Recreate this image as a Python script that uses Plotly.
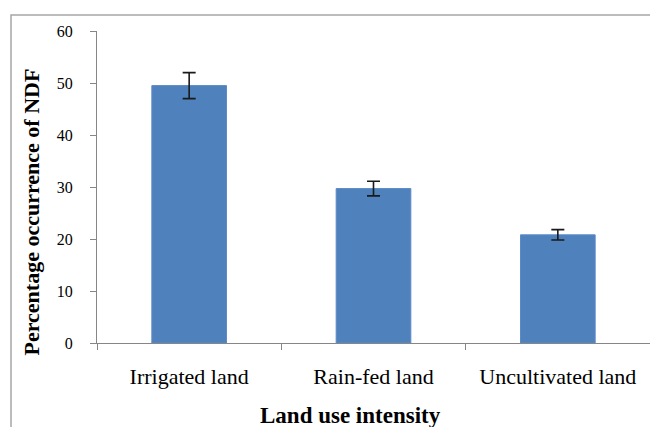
import plotly.graph_objects as go

categories = ["Irrigated land", "Rain-fed land", "Uncultivated land"]
values = [49.5, 29.7, 20.8]
errors = [2.5, 1.4, 1.0]
y_ticks = [0, 10, 20, 30, 40, 50, 60]

FONT = "'Liberation Serif', 'Times New Roman', Times, serif"

fig = go.Figure()
fig.add_trace(go.Bar(
    x=categories, y=values,
    marker=dict(color="#4F81BD", line=dict(color="#5B8BC6", width=1)),
    width=0.405,
    error_y=dict(type="data", array=errors, visible=True,
                 color="#1a1a1a", thickness=1.6, width=6.5),
))

fig.update_layout(
    width=650, height=427, autosize=False,
    margin=dict(l=97, r=0, t=31, b=84, pad=0),
    paper_bgcolor="white", plot_bgcolor="white",
    showlegend=False,
    font=dict(family=FONT, color="black"),
    xaxis=dict(
        range=[-0.5, 2.5], showgrid=False, showline=True,
        linecolor="#868686", linewidth=1.2,
        ticks="outside", ticklen=6, tickcolor="#868686", tickwidth=1.2,
        tickson="boundaries",
        tickfont=dict(family=FONT, size=22, color="black"),
        ticklabelstandoff=13,
    ),
    yaxis=dict(
        range=[0, 60], tickvals=y_ticks, showgrid=False, zeroline=False,
        showline=True, linecolor="#868686", linewidth=1.2,
        ticks="outside", ticklen=6, tickcolor="#868686", tickwidth=1.2,
        tickfont=dict(family=FONT, size=16, color="black"),
        ticklabelstandoff=14,
    ),
    shapes=[dict(
        type="rect", xref="paper", yref="paper",
        x0=-0.1555, x1=1.05, y0=-0.4, y1=1.0513,
        line=dict(color="#a6a6a6", width=1.5), fillcolor="rgba(0,0,0,0)",
        layer="below",
    )],
    annotations=[
        dict(text="<b>Percentage occurrence of NDF</b>", xref="paper", yref="paper",
             x=0, y=0, xshift=-66, yshift=130.5, textangle=-90,
             xanchor="center", yanchor="middle", showarrow=False,
             font=dict(family=FONT, size=22, color="black")),
        dict(text="<b>Land use intensity</b>", xref="paper", yref="paper",
             x=0, y=0, xshift=253, yshift=-72,
             xanchor="center", yanchor="middle", showarrow=False,
             font=dict(family=FONT, size=23, color="black")),
    ],
)

fig.write_html("out.html", config={"displayModeBar": False},
               post_script="document.body.style.margin='0';document.body.style.overflow='hidden';")
